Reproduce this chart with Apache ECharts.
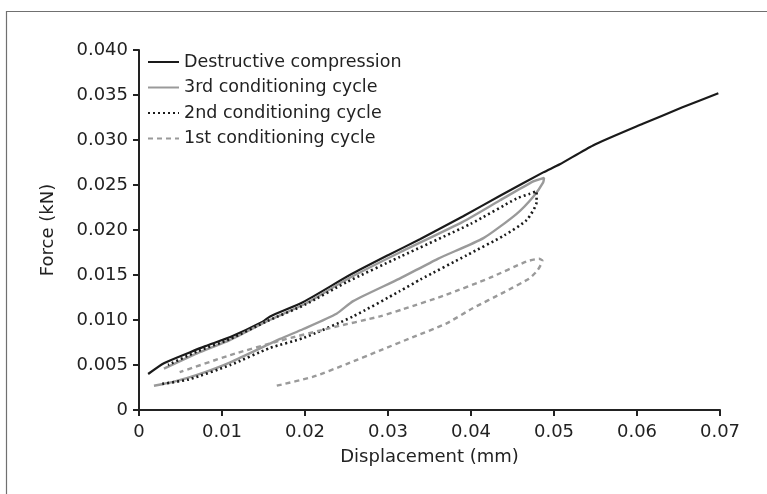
<!DOCTYPE html>
<html><head><meta charset="utf-8">
<script src="https://cdn.jsdelivr.net/npm/echarts@6/dist/echarts.min.js"></script>
<style>html,body{margin:0;padding:0;background:#fff}#c{width:767px;height:494px}</style>
</head><body><div id="c"></div>
<script>
const seriesNames = ["Destructive compression","3rd conditioning cycle","2nd conditioning cycle","1st conditioning cycle"];
const destructive = [[0.0011,0.0040],[0.003,0.0052],[0.0061,0.0064],[0.008,0.0071],[0.011,0.0081],[0.0149,0.0098],[0.0158,0.0104],[0.0198,0.0120],[0.0254,0.0150],[0.030,0.0172],[0.0339,0.0190],[0.039,0.0215],[0.0435,0.0238],[0.0487,0.0264],[0.0507,0.0273],[0.0547,0.0294],[0.0607,0.0318],[0.0654,0.0336],[0.0698,0.0352]];
const cycle3 = [[0.0018,0.0027],[0.004,0.0031],[0.007,0.0039],[0.011,0.0053],[0.017,0.0079],[0.0198,0.0090],[0.0238,0.0107],[0.0258,0.0121],[0.0314,0.0146],[0.036,0.0168],[0.0415,0.0191],[0.0455,0.0218],[0.0475,0.0237],[0.0487,0.0253],[0.0488,0.0258],[0.0475,0.0254],[0.0435,0.0233],[0.039,0.0209],[0.0314,0.0175],[0.025,0.0145],[0.020,0.0118],[0.0155,0.0099],[0.011,0.0078],[0.007,0.0063],[0.003,0.0046]];
const cycle2 = [[0.0028,0.0029],[0.006,0.0034],[0.011,0.0050],[0.0158,0.0069],[0.0198,0.0080],[0.0258,0.0104],[0.0314,0.0132],[0.0339,0.0145],[0.0395,0.0172],[0.0440,0.0194],[0.0467,0.0211],[0.0479,0.0231],[0.0479,0.0243],[0.0470,0.0240],[0.0455,0.0235],[0.040,0.0207],[0.0314,0.0170],[0.025,0.0142],[0.020,0.0117],[0.0155,0.0099],[0.011,0.0079],[0.007,0.0065],[0.0035,0.0050]];
const cycle1 = [[0.0166,0.0027],[0.021,0.0037],[0.025,0.0051],[0.029,0.0066],[0.033,0.0081],[0.037,0.0096],[0.0402,0.0113],[0.044,0.0131],[0.047,0.0146],[0.048,0.0155],[0.0486,0.0166],[0.0482,0.0168],[0.0467,0.0165],[0.0423,0.0147],[0.037,0.0128],[0.0318,0.0112],[0.029,0.0104],[0.023,0.0091],[0.017,0.0077],[0.011,0.0061],[0.0049,0.0042]];
const xTicks = {min:0,max:0.07,interval:0.01};
const yTicks = {min:0,max:0.04,interval:0.005};

const font = '"DejaVu Sans", sans-serif';
const txt = '#222';
const chart = echarts.init(document.getElementById('c'), null, {renderer:'canvas'});
const mk = (name, data, color, type, width) => ({
  name, type:'line', data, showSymbol:false, symbol:'none', smooth:0.2,
  lineStyle:{color, width, type}, itemStyle:{color}, animation:false, z: 2
});
chart.setOption({
  animation:false,
  backgroundColor:'#fff',
  graphic:[{type:'rect', shape:{x:6.5,y:11.5,width:800,height:600}, style:{fill:'none',stroke:'#707070',lineWidth:1.2}, silent:true}],
  grid:{left:139,right:47,top:50,bottom:84,containLabel:false},
  legend:{
    orient:'vertical', left:147, top:53, padding:0, itemWidth:31, itemHeight:14, itemGap:7.5,
    itemStyle:{opacity:0},
    textStyle:{fontFamily:font,fontSize:17.5,color:txt},
    data: seriesNames
  },
  xAxis:{type:'value', min:xTicks.min, max:xTicks.max, interval:xTicks.interval,
    name:'Displacement (mm)', nameLocation:'middle', nameGap:38,
    nameTextStyle:{fontFamily:font,fontSize:18,color:txt},
    axisLine:{lineStyle:{color:'#222',width:2}},
    axisTick:{show:true,length:6,lineStyle:{color:'#222',width:2}},
    axisLabel:{fontFamily:font,fontSize:18,color:txt,margin:13},
    splitLine:{show:false}},
  yAxis:{type:'value', min:yTicks.min, max:yTicks.max, interval:yTicks.interval,
    name:'Force (kN)', nameLocation:'middle', nameGap:82, nameRotate:90,
    nameTextStyle:{fontFamily:font,fontSize:18,color:txt},
    axisLine:{show:true,lineStyle:{color:'#222',width:2}},
    axisTick:{show:true,length:6,lineStyle:{color:'#222',width:2}},
    axisLabel:{fontFamily:font,fontSize:18,color:txt,margin:11,
      formatter:v=> v===0?'0':v.toFixed(3)},
    splitLine:{show:false}},
  series:[
    mk(seriesNames[0], destructive, '#1a1a1a', 'solid', 2.2),
    mk(seriesNames[1], cycle3, '#9a9a9a', 'solid', 2.4),
    mk(seriesNames[2], cycle2, '#1a1a1a', [2,3], 2.6),
    mk(seriesNames[3], cycle1, '#9a9a9a', [5,4], 2.4)
  ]
});
</script></body></html>
